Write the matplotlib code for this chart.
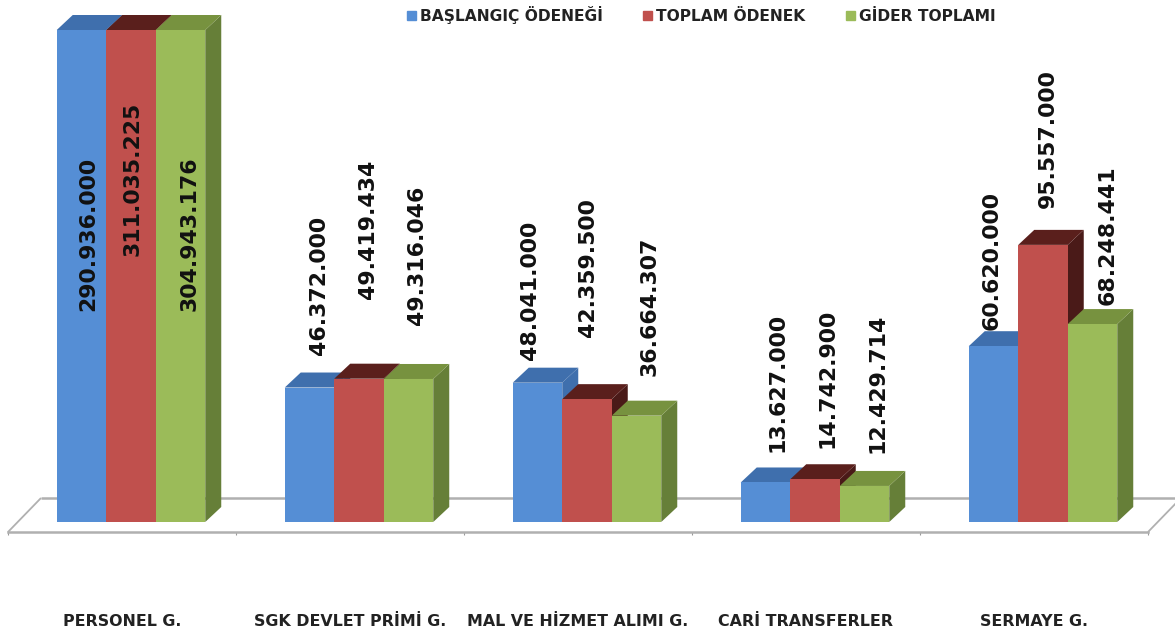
"""Grouped pseudo-3D budget bars (values in TL)."""

import matplotlib

matplotlib.use("Agg")
import matplotlib.pyplot as plt
from matplotlib.patches import Patch

categories = [
    "PERSONEL G.",
    "SGK DEVLET PRİMİ G.",
    "MAL VE HİZMET ALIMI G.",
    "CARİ TRANSFERLER",
    "SERMAYE G.",
]
series_names = ["BAŞLANGIÇ ÖDENEĞİ", "TOPLAM ÖDENEK", "GİDER TOPLAMI"]
baslangic = [290936000, 46372000, 48041000, 13627000, 60620000]
toplam = [311035225, 49419434, 42359500, 14742900, 95557000]
gider = [304943176, 49316046, 36664307, 12429714, 68248441]
label_texts = [
    ["290.936.000", "46.372.000", "48.041.000", "13.627.000", "60.620.000"],
    ["311.035.225", "49.419.434", "42.359.500", "14.742.900", "95.557.000"],
    ["304.943.176", "49.316.046", "36.664.307", "12.429.714", "68.248.441"],
]

# layout, in reference pixels
W, H = 1175, 636
LEFT, RIGHT, FLOOR_FRONT, TOP = 8, 1148, 532, 30
BASE = 522
PX_PER_UNIT = 2.9 / 1e6
label_x = [
    [88, 319, 530, 778, 992],
    [133, 368, 588, 828, 1048],
    [190, 417, 650, 878, 1108],
]
label_y = [
    [234, 285, 290, 382, 260],
    [179, 229, 268, 378, 139],
    [234, 255, 306, 383, 235],
]

FACE = ["#558ED5", "#C0504D", "#9BBB59"]
TOPS = ["#3F6FAD", "#5A1F1C", "#77923F"]
SIDE = ["#3F6FAD", "#4A1A18", "#667F38"]
GREY = "#B0B0B0"

fig = plt.figure(figsize=(W / 100, H / 100), dpi=100)
ax = fig.add_axes(
    [LEFT / W, 1 - FLOOR_FRONT / H, (RIGHT - LEFT) / W, (FLOOR_FRONT - TOP) / H]
)
cat_px = (RIGHT - LEFT) / len(categories)
ymin = -(FLOOR_FRONT - BASE) / PX_PER_UNIT
ymax = (BASE - TOP) / PX_PER_UNIT
ax.set_xlim(-0.5, len(categories) - 0.5)
ax.set_ylim(ymin, ymax)

# depth of the fake 3D, in data units
bar_w = 49.5 / cat_px
shift = 9 / cat_px
dx = 16 / cat_px
dy = 15 / PX_PER_UNIT

# floor
floor_dx = 33 / cat_px
floor_dy = (FLOOR_FRONT - 498) / PX_PER_UNIT
x0, x1 = ax.get_xlim()
floor = dict(color=GREY, lw=1.8, clip_on=False, solid_capstyle="butt", zorder=1)
ax.plot([x0 + floor_dx, x1 + floor_dx], [ymin + floor_dy] * 2, **floor)
ax.plot([x0, x0 + floor_dx], [ymin, ymin + floor_dy], **{**floor, "lw": 1.3})
ax.plot([x1, x1 + floor_dx], [ymin, ymin + floor_dy], **{**floor, "lw": 1.3})

all_series = [baslangic, toplam, gider]
z = 2
for i in range(len(categories)):
    for j, values in enumerate(all_series):
        h = min(values[i], ymax)
        left = i + shift + (j - 1.5) * bar_w
        right = left + bar_w
        ax.fill(
            [right, right + dx, right + dx, right],
            [0, dy, h + dy, h],
            color=SIDE[j],
            lw=0,
            clip_on=False,
            zorder=z,
        )
        ax.fill(
            [left, left + dx, right + dx, right],
            [h, h + dy, h + dy, h],
            color=TOPS[j],
            lw=0,
            clip_on=False,
            zorder=z,
        )
        ax.bar(
            left + bar_w / 2, h, width=bar_w, color=FACE[j], lw=0, zorder=z + 0.5
        )
        z += 1

for j in range(3):
    for i in range(len(categories)):
        fig.text(
            label_x[j][i] / W,
            1 - label_y[j][i] / H,
            label_texts[j][i],
            rotation=90,
            ha="center",
            va="center",
            fontsize=15.8,
            fontweight="bold",
            color="#111111",
            zorder=100,
        )

for side in ["top", "right", "left"]:
    ax.spines[side].set_visible(False)
ax.spines["bottom"].set_color(GREY)
ax.spines["bottom"].set_linewidth(1.8)
ax.set_yticks([])
ax.patch.set_alpha(0)
ax.set_xticks(range(len(categories)))
ax.set_xticklabels(categories, fontsize=11.4, fontweight="bold", color="#222222")
ax.tick_params(axis="x", which="major", length=0, pad=59)
ax.set_xticks([i - 0.5 for i in range(len(categories) + 1)], minor=True)
ax.tick_params(axis="x", which="minor", length=2.5, width=0.8, color="#999999")

handles = [Patch(color=c) for c in FACE]
fig.legend(
    handles,
    series_names,
    ncol=3,
    frameon=False,
    loc="center left",
    bbox_to_anchor=(393 / W, 1 - 15 / H),
    prop={"size": 11.2, "weight": "bold"},
    handlelength=0.58,
    handleheight=0.58,
    handletextpad=0.25,
    columnspacing=2.6,
    labelcolor="#222222",
)

fig.savefig("out.png", dpi=100)
